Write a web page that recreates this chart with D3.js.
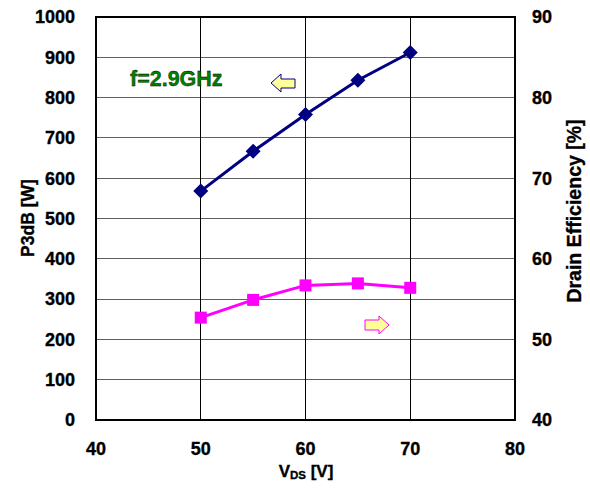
<!DOCTYPE html>
<html><head><meta charset="utf-8">
<script src="https://cdn.jsdelivr.net/npm/d3@7"></script>
<style>body{margin:0;background:#fff}svg{display:block}svg text{font-family:"Liberation Sans",Arial,sans-serif;font-weight:700;stroke:currentColor;stroke-width:0.35px}</style>
</head><body><svg id="c" width="590" height="488"></svg>
<script>
const vds = [50, 55, 60, 65, 70];
const p3db = [568, 667, 758, 843, 912];
const efficiency = [52.7, 54.9, 56.7, 56.95, 56.4];
const xTicks = [40, 50, 60, 70, 80];
const yLeftTicks = [0,100,200,300,400,500,600,700,800,900,1000];
const yRightTicks = [40,50,60,70,80,90];

const svg = d3.select("#c");
const L=96, R=515, T=17, B=420;
const x = d3.scaleLinear().domain([40,80]).range([L,R]);
const yl = d3.scaleLinear().domain([0,1000]).range([B,T]);
const yr = d3.scaleLinear().domain([40,90]).range([B,T]);

// grid
svg.append("g").selectAll("line").data(yLeftTicks).join("line")
  .attr("x1",L).attr("x2",R).attr("y1",d=>yl(d)).attr("y2",d=>yl(d))
  .attr("stroke","#606060").attr("stroke-width",1).attr("shape-rendering","crispEdges");
svg.append("g").selectAll("line").data(xTicks).join("line")
  .attr("x1",d=>x(d)).attr("x2",d=>x(d)).attr("y1",T).attr("y2",B)
  .attr("stroke","#000").attr("stroke-width",1).attr("shape-rendering","crispEdges");
svg.append("rect").attr("x",L).attr("y",T).attr("width",R-L).attr("height",B-T)
  .attr("fill","none").attr("stroke","#000").attr("stroke-width",2);

// axes labels
const fs = 18;
svg.append("g").selectAll("text").data(yLeftTicks).join("text")
  .attr("x",L-21).attr("y",d=>yl(d)).attr("dy","0.35em").attr("text-anchor","end")
  .attr("font-weight","bold").attr("font-size",fs).text(d=>d);
svg.append("g").selectAll("text").data(yRightTicks).join("text")
  .attr("x",R+17).attr("y",d=>yr(d)).attr("dy","0.35em").attr("text-anchor","start")
  .attr("font-weight","bold").attr("font-size",fs).text(d=>d);
svg.append("g").selectAll("text").data(xTicks).join("text")
  .attr("x",d=>x(d)).attr("y",455).attr("text-anchor","middle")
  .attr("font-weight","bold").attr("font-size",fs).text(d=>d);

// titles
svg.append("text").attr("transform",`translate(34,218) rotate(-90)`)
  .attr("text-anchor","middle").attr("font-weight","bold").attr("font-size",17.5).text("P3dB [W]");
svg.append("text").attr("transform",`translate(581,211) rotate(-90)`)
  .attr("text-anchor","middle").attr("font-weight","bold").attr("font-size",19.5).text("Drain Efficiency [%]");
const xt = svg.append("text").attr("x",306).attr("y",477).attr("text-anchor","middle").attr("font-weight","bold").attr("font-size",17);
xt.append("tspan").text("V");
xt.append("tspan").attr("font-size",11.5).attr("dy",2).text("DS");
xt.append("tspan").attr("dy",-2).text(" [V]");

// lines
const line1 = d3.line().x((d,i)=>x(vds[i])).y(d=>yl(d));
svg.append("path").attr("d",line1(p3db)).attr("fill","none").attr("stroke","#000080").attr("stroke-width",3);
svg.append("g").selectAll("path").data(p3db).join("path")
  .attr("transform",(d,i)=>`translate(${x(vds[i])},${yl(d)})`)
  .attr("d","M0,-7.5L7.5,0L0,7.5L-7.5,0Z").attr("fill","#000080");
const line2 = d3.line().x((d,i)=>x(vds[i])).y(d=>yr(d));
svg.append("path").attr("d",line2(efficiency)).attr("fill","none").attr("stroke","#FF00FF").attr("stroke-width",3);
svg.append("g").selectAll("rect").data(efficiency).join("rect")
  .attr("x",(d,i)=>x(vds[i])-6).attr("y",d=>yr(d)-6).attr("width",12).attr("height",12).attr("fill","#FF00FF");

// annotation
svg.append("text").attr("x",130).attr("y",86).attr("fill","#008000").attr("font-weight","bold").attr("font-size",21.5).text("f=2.9GHz");
// left arrow
svg.append("path").attr("d","M271,83 L281,74 L281,79 L295,79 L295,88 L281,88 L281,92 Z")
  .attr("fill","#FFFF99").attr("stroke","#000080").attr("stroke-width",1);
// right arrow
svg.append("path").attr("d","M389,325 L379,316 L379,320 L365,320 L365,330 L379,330 L379,334 Z")
  .attr("fill","#FFFF99").attr("stroke","#FF00FF").attr("stroke-width",1);
</script></body></html>
